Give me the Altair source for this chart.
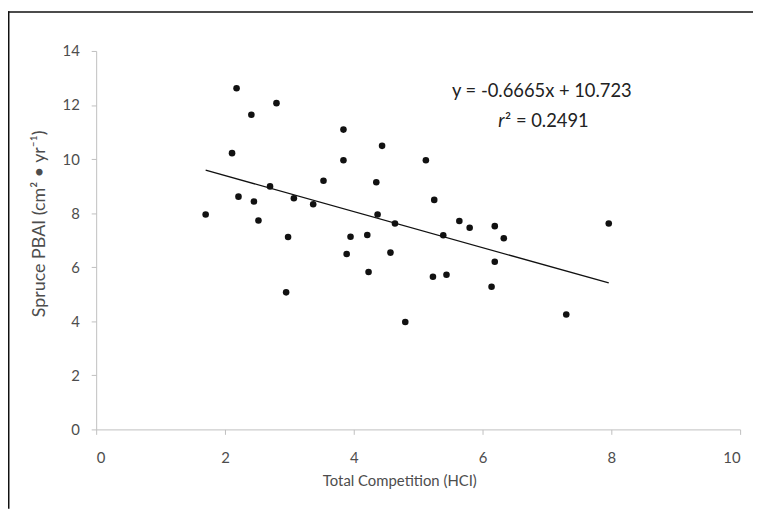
import altair as alt
import pandas as pd

# ---- data ----
hci = [1.70, 2.11, 2.18, 2.21, 2.41, 2.45, 2.52, 2.70, 2.80, 2.95,
       2.98, 3.07, 3.37, 3.53, 3.84, 3.84, 3.89, 3.95, 4.21, 4.23,
       4.35, 4.37, 4.44, 4.57, 4.64, 4.80, 5.12, 5.23, 5.25, 5.39,
       5.44, 5.64, 5.80, 6.14, 6.19, 6.19, 6.33, 7.30, 7.96]
pbai = [7.95, 10.22, 12.62, 8.61, 11.64, 8.43, 7.73, 8.99, 12.07, 5.07,
        7.12, 8.55, 8.33, 9.20, 11.09, 9.96, 6.49, 7.13, 7.19, 5.82,
        9.14, 7.95, 10.49, 6.54, 7.62, 3.97, 9.96, 5.65, 8.49, 7.18,
        5.72, 7.71, 7.46, 5.28, 7.52, 6.20, 7.07, 4.25, 7.62]
slope = -0.6665
intercept = 10.723
eq_text = "y = -0.6665x + 10.723"
r_text = "r"
r2_text = "\u00b2 = 0.2491"
x_ticks = [0, 2, 4, 6, 8, 10]
y_ticks = [0, 2, 4, 6, 8, 10, 12, 14]
x_title = "Total Competition (HCI)"
y_title = "Spruce PBAI (cm\u00b2 \u2022 yr\u207b\u00b9)"

df = pd.DataFrame({"hci": hci, "pbai": pbai})
xmin, xmax = min(hci), max(hci)
trend = pd.DataFrame({"hci": [xmin, xmax],
                      "pbai": [slope * xmin + intercept, slope * xmax + intercept]})
one = pd.DataFrame({"d": [0]})

FONT = "Lato"
TXT = "#4d4d4d"
AX = "#bfbfbf"

xs = alt.Scale(domain=[0, 10], nice=False, zero=False)
ys = alt.Scale(domain=[0, 14], nice=False, zero=False)

x_axis = alt.Axis(values=x_ticks, format="d", grid=False, domainColor=AX, tickColor=AX,
                  tickSize=5, labelFontSize=15, labelColor=TXT, labelFont=FONT,
                  labelPadding=16, title=x_title, titleFont=FONT, titleFontSize=15,
                  titleFontWeight="normal", titleColor=TXT, titlePadding=9,
                  titleX=306)
y_axis = alt.Axis(values=y_ticks, format="d", grid=False, domainColor=AX, tickColor=AX,
                  tickSize=5, labelFontSize=15, labelColor=TXT, labelFont=FONT,
                  labelPadding=12, title=y_title, titleFont=FONT, titleFontSize=18,
                  titleFontWeight="normal", titleColor=TXT, titlePadding=14,
                  titleY=174)

points = alt.Chart(df).mark_circle(size=44, color="#111111", opacity=1).encode(
    x=alt.X("hci:Q", scale=xs, axis=x_axis),
    y=alt.Y("pbai:Q", scale=ys, axis=y_axis),
)

line = alt.Chart(trend).mark_line(color="#111111", strokeWidth=1.3).encode(
    x=alt.X("hci:Q", scale=xs),
    y=alt.Y("pbai:Q", scale=ys),
)

eq = alt.Chart(one).mark_text(font=FONT, fontSize=18.5, color="#222222",
                              align="center", baseline="alphabetic").encode(
    x=alt.datum(6.92), y=alt.datum(12.31), text=alt.value(eq_text))
r_lbl = alt.Chart(one).mark_text(font=FONT, fontSize=18.5, color="#222222",
                                 fontStyle="italic", align="right",
                                 baseline="alphabetic").encode(
    x=alt.datum(6.34), y=alt.datum(11.18), text=alt.value(r_text))
r2_lbl = alt.Chart(one).mark_text(font=FONT, fontSize=18.5, color="#222222",
                                  align="left", baseline="alphabetic").encode(
    x=alt.datum(6.35), y=alt.datum(11.18), text=alt.value(r2_text))

# outer chart frame (left and top edges only), drawn as thin filled bars
frame_left = alt.Chart(one).mark_rect(color="#111111", strokeWidth=0).encode(
    x=alt.value(-89), x2=alt.value(-87.5), y=alt.value(-40), y2=alt.value(462))
frame_top = alt.Chart(one).mark_rect(color="#111111", strokeWidth=0).encode(
    x=alt.value(-89), x2=alt.value(664), y=alt.value(-40), y2=alt.value(-38.5))

chart = alt.layer(frame_left, frame_top, line, points, eq, r_lbl, r2_lbl).properties(
    width=650, height=382,
    autosize=alt.AutoSizeParams(type="none"),
    padding={"left": 89, "top": 41, "right": 13, "bottom": 80},
    background="white",
).configure_view(strokeWidth=0)

chart.save("out.html", embed_options={"renderer": "svg", "actions": False})
